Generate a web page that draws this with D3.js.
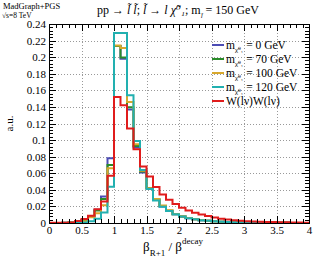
<!DOCTYPE html>
<meta charset="utf-8">
<style>
body { margin: 0; background: #fff; }
text { font-family: "Liberation Serif", "DejaVu Serif", serif; fill: #000; }
.axis path { display: none; }
.axis line { stroke: #000; stroke-width: 1px; shape-rendering: crispEdges; }
.grid line { stroke: #999; stroke-width: 1px; stroke-dasharray: 1,2; shape-rendering: crispEdges; }
.hist { fill: none; stroke-width: 2px; stroke-linejoin: miter; }
</style>
<body>
<script src="https://d3js.org/d3.v7.min.js"></script>
<script>
// bin lower edges 0.0 .. 3.9, width 0.1
var binStarts = d3.range(40).map(function(i) { return i / 10; });
var binWidth = 0.1;

var seriesNames = ["m0", "m70", "m100", "m120", "ww"];
var seriesColors = ["#4c4cb4", "#2a8c2a", "#d8a82c", "#22b0b0", "#e01c1c"];

var m0 = [0, 0.0001, 0.0002, 0.0005, 0.0015, 0.0035, 0.008, 0.016, 0.032, 0.078,
  0.2135, 0.198, 0.137, 0.091, 0.061, 0.042, 0.028, 0.020, 0.0145, 0.0105,
  0.0078, 0.0058, 0.0044, 0.0034, 0.0026, 0.002, 0.0016, 0.0012, 0.001, 0.0008,
  0.0006, 0.0005, 0.0004, 0.0003, 0.0003, 0.0002, 0.0002, 0.0001, 0.0001, 0.0001];
var m70 = [0, 0.0001, 0.0002, 0.0005, 0.0015, 0.0035, 0.0078, 0.015, 0.029, 0.070,
  0.2135, 0.1995, 0.1395, 0.093, 0.062, 0.042, 0.0285, 0.0205, 0.0148, 0.0107,
  0.0079, 0.0059, 0.0045, 0.0034, 0.0026, 0.002, 0.0016, 0.0012, 0.001, 0.0008,
  0.0006, 0.0005, 0.0004, 0.0003, 0.0003, 0.0002, 0.0002, 0.0001, 0.0001, 0.0001];
var m100 = [0, 0, 0.0001, 0.0003, 0.0008, 0.002, 0.0069, 0.0117, 0.0215, 0.066,
  0.214, 0.211, 0.146, 0.095, 0.063, 0.042, 0.029, 0.021, 0.0155, 0.011,
  0.008, 0.006, 0.0046, 0.0035, 0.0027, 0.0021, 0.0016, 0.0012, 0.001, 0.0008,
  0.0006, 0.0005, 0.0004, 0.0003, 0.0003, 0.0002, 0.0002, 0.0001, 0.0001, 0.0001];
var m120 = [0, 0, 0, 0.0001, 0.0002, 0.0005, 0.002, 0.0052, 0.0127, 0.0438,
  0.229, 0.229, 0.154, 0.099, 0.064, 0.041, 0.027, 0.0195, 0.0145, 0.0105,
  0.0078, 0.0058, 0.0044, 0.0034, 0.0026, 0.002, 0.0015, 0.0012, 0.001, 0.0008,
  0.0006, 0.0005, 0.0004, 0.0003, 0.0003, 0.0002, 0.0002, 0.0001, 0.0001, 0.0001];
var ww = [0.0003, 0.0003, 0.0004, 0.0006, 0.0024, 0.0048, 0.0088, 0.0165, 0.026, 0.057,
  0.152, 0.142, 0.114, 0.089, 0.068, 0.056, 0.0435, 0.0345, 0.028, 0.023,
  0.0185, 0.015, 0.0123, 0.0102, 0.0083, 0.0066, 0.0052, 0.0041, 0.0033, 0.0027,
  0.0022, 0.0018, 0.0015, 0.0013, 0.0011, 0.0009, 0.0008, 0.0006, 0.0005, 0.0004];

var yTicks = [0, 0.02, 0.04, 0.06, 0.08, 0.1, 0.12, 0.14, 0.16, 0.18, 0.2, 0.22, 0.24];
var yTickLabels = ["0", "0.02", "0.04", "0.06", "0.08", "0.1", "0.12", "0.14", "0.16", "0.18", "0.2", "0.22", "0.24"];
var xTicks = [0, 0.5, 1, 1.5, 2, 2.5, 3, 3.5, 4];
var xTickLabels = ["0", "0.5", "1", "1.5", "2", "2.5", "3", "3.5", "4"];

var legendMasses = ["0", "70", "100", "120"];

var margin = {top: 24, right: 23, bottom: 40, left: 49},
    W = 332, H = 263,
    width = W - margin.left - margin.right,
    height = H - margin.top - margin.bottom;

var svg = d3.select("body").append("svg")
    .attr("width", W).attr("height", H);
var g = svg.append("g")
    .attr("transform", "translate(" + margin.left + "," + margin.top + ")");

var x = d3.scaleLinear().domain([0, 4]).range([0, width]);
var y = d3.scaleLinear().domain([0, 0.24]).range([height, 0]);

// grid
g.append("g").attr("class", "grid")
  .selectAll("line").data(xTicks.slice(1, -1)).enter().append("line")
    .attr("x1", function(d) { return Math.round(x(d)) + 0.5; })
    .attr("x2", function(d) { return Math.round(x(d)) + 0.5; })
    .attr("y1", 0).attr("y2", height);
g.append("g").attr("class", "grid")
  .selectAll("line").data(yTicks.slice(1, -1)).enter().append("line")
    .attr("y1", function(d) { return Math.round(y(d)) + 0.5; })
    .attr("y2", function(d) { return Math.round(y(d)) + 0.5; })
    .attr("x1", 0).attr("x2", width);

// histograms
var seriesData = [m0, m70, m100, m120, ww];
var line = d3.line()
    .x(function(d) { return x(d[0]); })
    .y(function(d) { return y(d[1]); })
    .curve(d3.curveStepAfter);

seriesData.forEach(function(vals, i) {
  var pts = binStarts.map(function(b, j) { return [b, vals[j]]; });
  pts.push([binStarts[binStarts.length - 1] + binWidth, vals[vals.length - 1]]);
  g.append("path")
    .attr("class", "hist")
    .attr("d", line(pts))
    .attr("stroke", seriesColors[i]);
});

// axes with inside ticks on all sides
var xMinor = d3.range(0, 4.001, 0.1);
var yMinor = d3.range(0, 0.2401, 0.004);

g.append("g").attr("class", "axis")
  .attr("transform", "translate(0," + height + ")")
  .call(d3.axisBottom(x).tickValues(xMinor).tickSize(-4).tickFormat(""));
g.append("g").attr("class", "axis")
  .attr("transform", "translate(0," + height + ")")
  .call(d3.axisBottom(x).tickValues(xTicks).tickSize(-7).tickPadding(3)
    .tickFormat(function(d, i) { return xTickLabels[i]; }))
  .selectAll("text").style("font-size", "11px");
g.append("g").attr("class", "axis")
  .call(d3.axisTop(x).tickValues(xMinor).tickSize(-4).tickFormat(""));
g.append("g").attr("class", "axis")
  .call(d3.axisTop(x).tickValues(xTicks).tickSize(-7).tickFormat(""));

g.append("g").attr("class", "axis")
  .call(d3.axisLeft(y).tickValues(yMinor).tickSize(-4).tickFormat(""));
g.append("g").attr("class", "axis")
  .call(d3.axisLeft(y).tickValues(yTicks).tickSize(-7).tickPadding(3)
    .tickFormat(function(d, i) { return yTickLabels[i]; }))
  .selectAll("text").style("font-size", "11px");
g.append("g").attr("class", "axis")
  .attr("transform", "translate(" + width + ",0)")
  .call(d3.axisRight(y).tickValues(yMinor).tickSize(-4).tickFormat(""));
g.append("g").attr("class", "axis")
  .attr("transform", "translate(" + width + ",0)")
  .call(d3.axisRight(y).tickValues(yTicks).tickSize(-7).tickFormat(""));

svg.selectAll(".axis text").attr("font-family", null);

// frame
g.append("rect")
  .attr("x", 0.5).attr("y", 0.5)
  .attr("width", width).attr("height", height)
  .attr("fill", "none").attr("stroke", "#000").attr("stroke-width", 1);

// legend
var legend = g.append("g").attr("transform", "translate(163,21)");
var rows = legend.selectAll("g").data(seriesNames).enter().append("g")
  .attr("transform", function(d, i) { return "translate(0," + (i * 14) + ")"; });
rows.append("line")
  .attr("x1", 0).attr("x2", 12).attr("y1", 0).attr("y2", 0)
  .attr("stroke", function(d, i) { return seriesColors[i]; })
  .attr("stroke-width", 2);
rows.each(function(d, i) {
  var t = d3.select(this).append("text")
    .attr("x", 14).attr("y", 4).style("font-size", "11.5px");
  if (i < 4) {
    t.append("tspan").text("m");
    t.append("tspan").attr("dy", 2.5).style("font-size", "7px").text("\u03C7\u0303\u2070\u2081");
    t.append("tspan").attr("dy", -2.5).text(" = " + legendMasses[i] + " GeV");
  } else {
    t.text("W(l\u03BD)W(l\u03BD)");
  }
});

// texts
svg.append("text").attr("x", 3).attr("y", 8.5).style("font-size", "8.5px").text("MadGraph+PGS");
svg.append("text").attr("x", 2).attr("y", 17.5).style("font-size", "7.5px").text("\u221As=8 TeV");

var title = svg.append("text").attr("x", 97).attr("y", 14).style("font-size", "12px");
title.append("tspan").text("pp \u2192 ");
title.append("tspan").style("font-style", "italic").text("l\u0303 l\u0303");
title.append("tspan").text("; ");
title.append("tspan").style("font-style", "italic").text("l\u0303");
title.append("tspan").text(" \u2192 ");
title.append("tspan").style("font-style", "italic").text("l \u03C7\u0303\u2070\u2081");
title.append("tspan").text(";  m");
title.append("tspan").attr("dy", 4).style("font-size", "7px").style("font-style", "italic").text("l\u0303");
title.append("tspan").attr("dy", -4).text(" = 150 GeV");

svg.append("text")
  .attr("transform", "translate(13," + (margin.top + height / 2) + ") rotate(-90)")
  .attr("text-anchor", "middle").style("font-size", "11px").text("a.u.");

var xl = svg.append("text").attr("x", 143).attr("y", 251).style("font-size", "13px");
xl.append("tspan").text("\u03B2");
xl.append("tspan").attr("dy", 5).style("font-size", "9px").text("R+1");
xl.append("tspan").attr("dy", -5).text(" / \u03B2");
xl.append("tspan").attr("dy", -7).style("font-size", "9px").text("decay");
</script>
</body>
